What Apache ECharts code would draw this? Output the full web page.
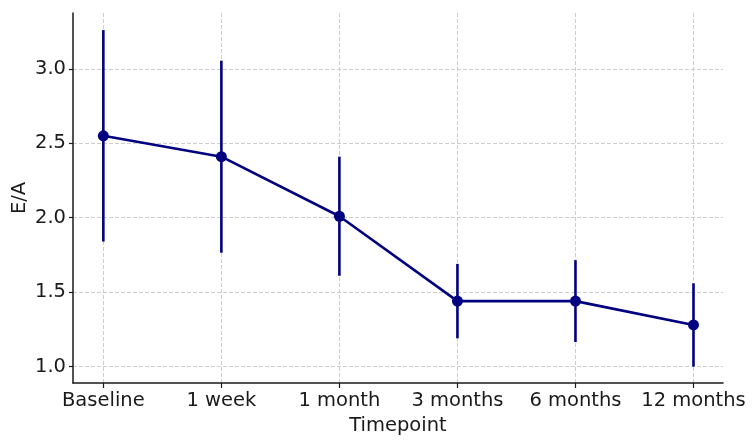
<!DOCTYPE html>
<html>
<head>
<meta charset="utf-8">
<script src="https://cdn.jsdelivr.net/npm/echarts@6/dist/echarts.min.js"></script>
<style>
  html, body { margin: 0; padding: 0; background: #fff; }
  #chartmain { width: 756px; height: 446px; }
</style>
</head>
<body>
<div id="chartmain"></div>
<script>
var timepoints = ['Baseline', '1 week', '1 month', '3 months', '6 months', '12 months'];
var meanEA = [2.55, 2.41, 2.01, 1.44, 1.44, 1.28];
var errEA = [0.71, 0.645, 0.40, 0.25, 0.275, 0.28];
var yTicks = [1.0, 1.5, 2.0, 2.5, 3.0];

var NAVY = '#000080';
var FONT = 'DejaVu Sans';
var INK = '#1a1a1a';

var lineData = [];
var errData = [];
for (var i = 0; i < timepoints.length; i++) {
    lineData.push([i, meanEA[i]]);
    errData.push([i, meanEA[i] - errEA[i], meanEA[i] + errEA[i]]);
}
var xIdx = timepoints.map(function (t, i) { return i; });

var gridLine = {
    show: true,
    lineStyle: { color: '#c8c8c8', width: 0.9, type: [4, 2] }
};

option = {
    animation: false,
    grid: { left: 73, right: 33, top: 13, bottom: 63, containLabel: false, outerBoundsMode: 'none' },
    xAxis: {
        type: 'value',
        min: -0.257,
        max: 5.25,
        name: 'Timepoint',
        nameLocation: 'middle',
        nameGap: 32,
        nameTextStyle: { fontFamily: FONT, fontSize: 19.5, color: INK },
        axisLine: { show: true, onZero: false, lineStyle: { color: INK, width: 1.5 } },
        axisTick: { show: true, inside: false, length: 5, customValues: xIdx, lineStyle: { color: INK, width: 1.2 } },
        axisLabel: {
            customValues: xIdx,
            margin: 8,
            fontFamily: FONT, fontSize: 19.5, color: INK,
            formatter: function (v) { return timepoints[Math.round(v)]; }
        },
        splitLine: gridLine
    },
    yAxis: {
        type: 'value',
        min: 0.89,
        max: 3.375,
        name: 'E/A',
        nameLocation: 'middle',
        nameGap: 43,
        nameMoveOverlap: false,
        nameTextStyle: { fontFamily: FONT, fontSize: 19.5, color: INK },
        axisLine: { show: true, onZero: false, lineStyle: { color: INK, width: 1.5 } },
        axisTick: { show: true, inside: false, length: 4, customValues: yTicks, lineStyle: { color: INK, width: 1.2 } },
        axisLabel: {
            customValues: yTicks,
            margin: 7,
            fontFamily: FONT, fontSize: 19.5, color: INK,
            formatter: function (v) { return v.toFixed(1); }
        },
        splitLine: gridLine
    },
    series: [
        {
            name: 'err',
            type: 'custom',
            data: errData,
            z: 3,
            renderItem: function (params, api) {
                var lo = api.coord([api.value(0), api.value(1)]);
                var hi = api.coord([api.value(0), api.value(2)]);
                return {
                    type: 'line',
                    shape: { x1: lo[0], y1: lo[1], x2: hi[0], y2: hi[1] },
                    style: { stroke: NAVY, lineWidth: 2.6 }
                };
            }
        },
        {
            name: 'E/A',
            type: 'line',
            data: lineData,
            z: 4,
            symbol: 'circle',
            symbolSize: 11,
            itemStyle: { color: NAVY },
            lineStyle: { color: NAVY, width: 2.6 }
        }
    ]
};

var myChart = echarts.init(document.getElementById('chartmain'));
myChart.setOption(option);
</script>
</body>
</html>
